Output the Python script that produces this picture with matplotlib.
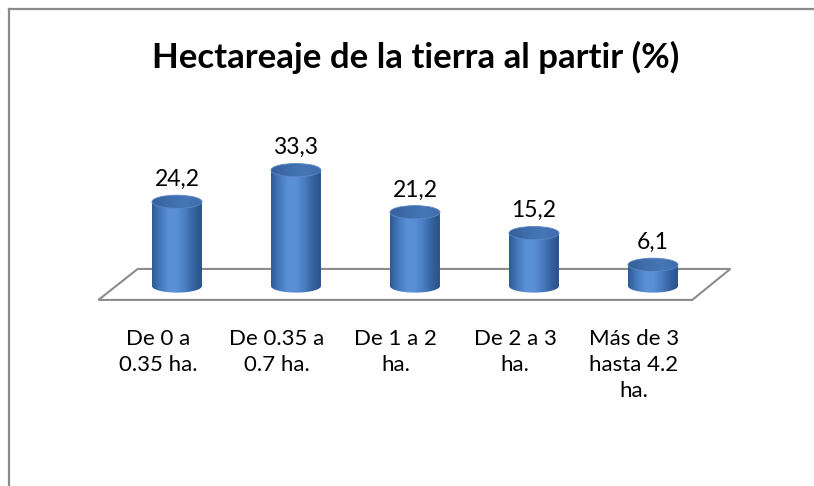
import numpy as np
import matplotlib
matplotlib.use('Agg')
import matplotlib.pyplot as plt
from matplotlib.patches import Polygon, Ellipse
from matplotlib.colors import LinearSegmentedColormap
from matplotlib.lines import Line2D

# data
categories = ['De 0 a\n0.35 ha.', 'De 0.35 a\n0.7 ha.', 'De 1 a 2\nha.',
              'De 2 a 3\nha.', 'Más de 3\nhasta 4.2\nha.']
values = [24.2, 33.3, 21.2, 15.2, 6.1]
value_labels = ['24,2', '33,3', '21,2', '15,2', '6,1']
title = 'Hectareaje de la tierra al partir (%)'

plt.rcParams['font.family'] = ['Lato', 'DejaVu Sans']

fig = plt.figure(figsize=(8.14, 4.86), dpi=100)
ax = fig.add_axes([0, 0, 1, 1])
ax.axis('off')

# outer chart frame (left/top visible only)
fig.add_artist(Line2D([0.0105, 0.0105], [0, 0.982], transform=fig.transFigure,
                      color='#8a8a8a', lw=1.6))
fig.add_artist(Line2D([0.0105, 1.0], [0.982, 0.982], transform=fig.transFigure,
                      color='#8a8a8a', lw=1.6))

# 3d floor
floor = Polygon([(-0.33, 4.9), (4.65, 4.9), (4.33, -4.0), (-0.66, -4.0)],
                closed=True, facecolor='white', edgecolor='#8c8c8c', lw=1.5, zorder=1)
ax.add_patch(floor)

body_cmap = LinearSegmentedColormap.from_list(
    'body', ['#2e5a93', '#4479bd', '#5a8fd6', '#5990d6', '#4a7dc2', '#3563a0', '#2a5189'])
top_cmap = LinearSegmentedColormap.from_list(
    'top', ['#355f99', '#3f6dab', '#4676b6', '#3f6caa'])

w = 0.42     # cylinder width (category units)
eh = 3.8     # ellipse height (value units)
grad = np.linspace(0, 1, 256).reshape(1, -1)

x = np.arange(len(values))
for xi, v, lab in zip(x, values, value_labels):
    left, right = xi - w / 2, xi + w / 2
    t = np.linspace(np.pi, 2 * np.pi, 60)
    bottom = np.column_stack([xi + w / 2 * np.cos(t), eh / 2 * np.sin(t)])
    verts = np.vstack([bottom, [[right, v], [left, v]]])
    clip = Polygon(verts, closed=True, facecolor='none', edgecolor='none')
    ax.add_patch(clip)
    im = ax.imshow(grad, cmap=body_cmap, extent=(left, right, -eh / 2, v),
                   aspect='auto', zorder=3, interpolation='bilinear')
    im.set_clip_path(clip)
    top = Ellipse((xi, v), w, eh, facecolor='none', edgecolor='none', zorder=4)
    ax.add_patch(top)
    im2 = ax.imshow(grad, cmap=top_cmap, extent=(left, right, v - eh / 2, v + eh / 2),
                    aspect='auto', zorder=4, interpolation='bilinear')
    im2.set_clip_path(top)
    ax.add_patch(Ellipse((xi, v), w, eh, facecolor='none', edgecolor='#5a88c8',
                         lw=0.6, zorder=5))
    ax.text(xi, v + 6.4, lab, ha='center', va='center', fontsize=16.5, color='black')

for xi, cat in zip(x, categories):
    ax.text(xi - 0.16, -12.3, cat, ha='center', va='top', fontsize=16,
            linespacing=1.38, color='black')

ax.text(0.511, 0.882, title, transform=ax.transAxes, ha='center', va='center',
        fontsize=25, fontweight='bold', color='black')

ax.set_xlim(-1.487, 5.353)
ax.set_ylim(-57.47, 82.18)

fig.savefig('out.png', dpi=100, facecolor='white')
